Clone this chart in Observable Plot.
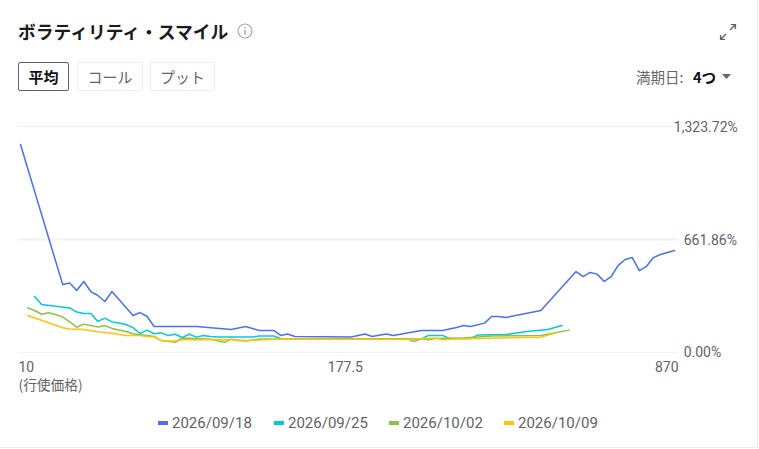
<!DOCTYPE html>
<html lang="ja">
<head>
<meta charset="utf-8">
<script src="https://cdn.jsdelivr.net/npm/d3@7"></script>
<script src="https://cdn.jsdelivr.net/npm/@observablehq/plot@0.6"></script>
<style>
html,body{margin:0;padding:0;background:#fff;}
body{width:759px;height:449px;overflow:hidden;position:relative;font-family:Roboto,"Noto Sans CJK JP",sans-serif;}
.abs{position:absolute;white-space:nowrap;}
.btn{position:absolute;box-sizing:border-box;top:62px;height:29px;border:1px solid #eeeff1;border-radius:2px;color:#666;font-size:15px;line-height:27px;text-align:center;font-family:"Noto Sans CJK JP",sans-serif;}
.frame{position:absolute;left:0;top:0;width:757px;height:447px;border-right:1px solid #ececec;border-bottom:1px solid #ececec;}
.leg{position:absolute;top:414px;font-size:15px;color:#5f6368;line-height:18px;}
.leg i{position:absolute;left:-14px;top:7px;width:10px;height:4px;}
</style>
</head>
<body>
<div class="frame"></div>
<div class="abs" style="left:18px;top:18px;font:700 17.75px/26px 'Noto Sans CJK JP',sans-serif;color:#1b1b1b;">ボラティリティ・スマイル</div>
<svg class="abs" style="left:237px;top:23px" width="16" height="16" viewBox="0 0 16 16"><circle cx="8" cy="8" r="7" fill="none" stroke="#a6a6a6" stroke-width="1.2"/><rect x="7.3" y="7" width="1.5" height="4.6" fill="#a6a6a6"/><rect x="7.3" y="4.2" width="1.5" height="1.5" fill="#a6a6a6"/></svg>
<svg class="abs" style="left:719px;top:23px" width="18" height="18" viewBox="0 0 18 18" fill="none" stroke="#666" stroke-width="1.4"><path d="M11 7 L16 2 M12 1.6 H16.4 V6"/><path d="M7 11 L2 16 M1.6 12 V16.4 H6"/></svg>
<div class="btn" style="left:18px;width:51px;border-color:#56627f;color:#111;font-weight:700;">平均</div>
<div class="btn" style="left:77px;width:66px;">コール</div>
<div class="btn" style="left:150px;width:65px;">プット</div>
<div class="abs" style="left:636px;top:67px;font:14.5px/20px 'Noto Sans CJK JP',sans-serif;color:#666;">満期日:</div>
<div class="abs" style="left:693px;top:67px;font:700 14.5px/20px 'Noto Sans CJK JP',sans-serif;color:#111;">4つ</div>
<svg class="abs" style="left:722px;top:74px" width="10" height="6"><path d="M0 0H9L4.5 5Z" fill="#666"/></svg>
<div class="leg" style="left:172px"><i style="background:#4b6ff5"></i>2026/09/18</div>
<div class="leg" style="left:288px"><i style="background:#00cbdc"></i>2026/09/25</div>
<div class="leg" style="left:403px"><i style="background:#8cc248"></i>2026/10/02</div>
<div class="leg" style="left:518px"><i style="background:#ffc30b"></i>2026/10/09</div>
<script>
// x = position of the strike along the chain (step index); y = implied volatility in %
const seriesNames = ["2026/09/18","2026/09/25","2026/10/02","2026/10/09"];
const seriesColors = ["#4b6ff5","#00cbdc","#8cc248","#ffc30b"];

const blueX = [0,6,7,8,9,10,11,12,13,16,17,18,19,25,30,32,34,36,37,38,39,47,49,50,52,53,57,60,62,63,64,66,67,68,69,74,79,80,81,82,83,84,85,86,87,88,89,90,91,92,93];
const blueV = [1218,398,407,363,416,357,334,299,357,217,234,211,152,152,135,152,129,129,100,108,94,91,108,94,108,100,129,129,146,158,152,172,211,211,205,246,474,445,469,459,416,445,510,545,556,480,504,556,574,586,597];

const cyanX = [2,3,7,8,9,10,11,12,13,14,15,16,17,18,19,20,21,22,23,24,25,26,27,28,33,34,36,37,38,57,58,60,61,64,65,69,72,75,77];
const cyanV = [328,281,261,237,228,228,182,201,179,173,164,146,111,131,110,115,100,107,88,107,90,100,94,91,91,97,97,82,79,79,100,100,82,82,102,105,123,135,158];

const greenX = [1,2,3,4,5,6,7,8,9,10,11,12,13,15,16,18,19,20,22,23,27,29,30,31,32,34,55,56,57,58,59,63,67,74,78];
const greenV = [262,246,224,233,223,207,179,148,166,158,150,158,141,123,110,100,94,70,60,85,78,60,78,70,67,79,79,64,80,74,82,85,97,100,131];

const yellowX = [1,4,6,7,9,11,13,15,17,18,19,20,21,22,23,30,32,34,37,55,58,59,60,62,74,76];
const yellowV = [217,174,145,138,135,121,113,100,100,94,91,70,67,67,74,76,70,73,79,76,84,85,74,79,90,113];

const volTicks = [0, 661.86, 1323.72];
const strikeTickX = [0, 46.2, 93];
const strikeTickLabels = ["10", "177.5", "870"];
const labelColor = "#5f6368";

const rows = [[blueX,blueV],[cyanX,cyanV],[greenX,greenV],[yellowX,yellowV]]
  .flatMap(([xs,vs],i)=>xs.map((x,j)=>({series:seriesNames[i],x,v:vs[j]})));

const volFmt = d => d3.format(",.2f")(d) + "%";
const volText = {fontSize:14, fontFamily:"Roboto", fill:labelColor};

const chart = Plot.plot({
  width: 759,
  height: 449,
  marginTop: 0, marginBottom: 0, marginLeft: 0, marginRight: 0,
  style: {position:"absolute", left:"0", top:"0", background:"transparent", overflow:"visible"},
  x: {domain:[0,93], range:[20,674], axis:null},
  y: {domain:[0,1323.72], range:[352,126], axis:null},
  color: {domain:seriesNames, range:seriesColors},
  marks: [
    Plot.ruleY(volTicks, {y:d=>d, x1:-0.28, x2:93.6, stroke:"#f1f1f1", strokeWidth:d=>d===661.86?2:1}),
    Plot.line(rows, {x:"x", y:"v", z:"series", stroke:"series", strokeWidth:1.5, curve:"linear"}),
    Plot.text([volTicks[2]], {x:()=>102, y:d=>d, text:volFmt, textAnchor:"end", dy:1, ...volText}),
    Plot.text([volTicks[1]], {x:()=>94.3, y:d=>d, text:volFmt, textAnchor:"start", dy:1, ...volText}),
    Plot.text([volTicks[0]], {x:()=>94.3, y:d=>d, text:volFmt, textAnchor:"start", ...volText}),
    Plot.text([0], {x:()=>strikeTickX[0], y:()=>0, text:()=>strikeTickLabels[0], textAnchor:"start", dx:-2, dy:15, ...volText}),
    Plot.text([1], {x:()=>strikeTickX[1], y:()=>0, text:()=>strikeTickLabels[1], textAnchor:"middle", dy:15, ...volText}),
    Plot.text([2], {x:()=>strikeTickX[2], y:()=>0, text:()=>strikeTickLabels[2], textAnchor:"end", dx:4, dy:15, ...volText}),
    Plot.text(["(行使価格)"], {x:()=>0, y:()=>0, text:d=>d, textAnchor:"start", dx:-2, dy:33, fontSize:13.7, fontFamily:"Noto Sans CJK JP", fill:labelColor})
  ]
});
document.body.appendChild(chart);
</script>
</body>
</html>
